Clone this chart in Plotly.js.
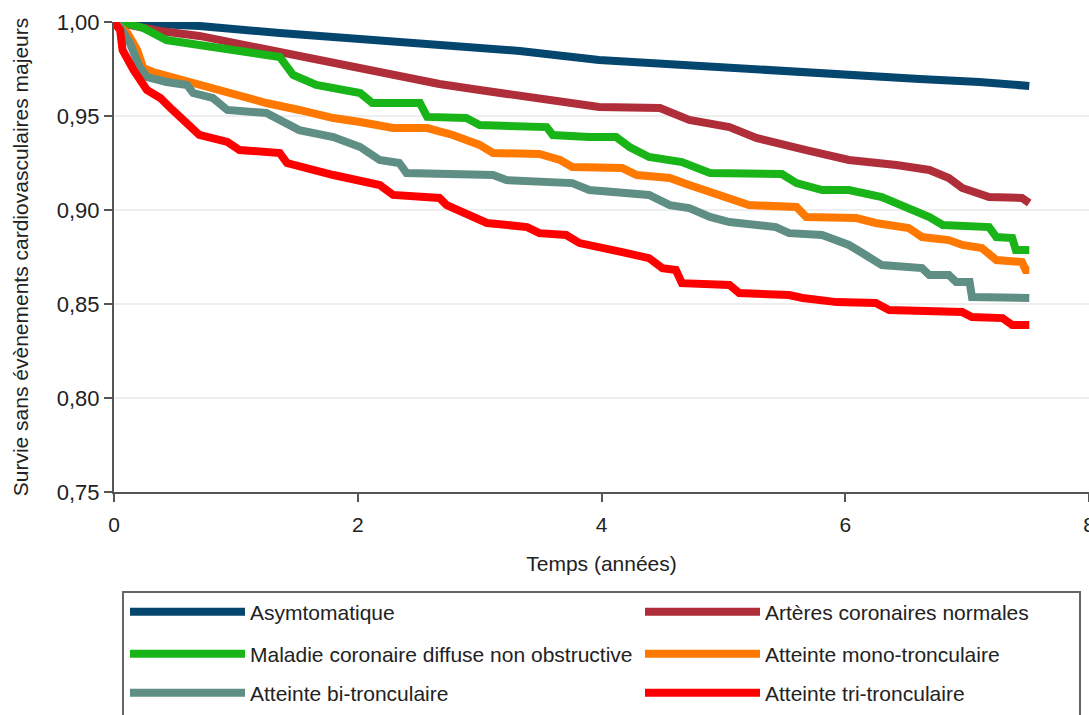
<!DOCTYPE html>
<html>
<head>
<meta charset="utf-8">
<script src="https://cdn.plot.ly/plotly-3.0.1.min.js"></script>
<style>html,body{margin:0;padding:0;background:#fff;}#chart{width:1089px;height:715px;}</style>
</head>
<body>
<div id="chart"></div>
<script>
// Kaplan-Meier survival curves
const seriesNames = [
  "Asymtomatique",
  "Artères coronaires normales",
  "Maladie coronaire diffuse non obstructive",
  "Atteinte mono-tronculaire",
  "Atteinte bi-tronculaire",
  "Atteinte tri-tronculaire"
];

const tAsym = [0, 0.70, 1.36, 2.02, 2.75, 3.33, 3.98, 4.64, 5.30, 6.03, 6.61, 7.10, 7.51];
const sAsym = [1.0, 0.9979, 0.9941, 0.991, 0.9872, 0.9846, 0.9798, 0.9771, 0.9745, 0.9713, 0.9697, 0.9681, 0.966];

const tNorm = [0, 0.38, 0.70, 1.03, 1.52, 1.93, 2.34, 2.67, 3.00, 3.27, 3.66, 3.98, 4.48, 4.72, 5.05, 5.27, 5.68, 6.03, 6.42, 6.69, 6.85, 6.96, 7.18, 7.45, 7.51];
const sNorm = [1.0, 0.9952, 0.9926, 0.9883, 0.9824, 0.9771, 0.9718, 0.967, 0.9638, 0.9612, 0.9585, 0.9548, 0.9542, 0.9479, 0.9441, 0.9383, 0.9319, 0.9266, 0.9239, 0.9213, 0.917, 0.9117, 0.9069, 0.9064, 0.9037];

const tDiff = [0, 0.09, 0.24, 0.43, 0.70, 1.03, 1.36, 1.47, 1.66, 2.02, 2.12, 2.51, 2.57, 2.89, 3.00, 3.55, 3.60, 3.90, 4.12, 4.23, 4.39, 4.66, 4.89, 5.48, 5.60, 5.81, 6.03, 6.30, 6.47, 6.69, 6.80, 7.18, 7.24, 7.37, 7.40, 7.51];
const sDiff = [1.0, 0.9995, 0.9968, 0.9904, 0.9878, 0.9851, 0.9814, 0.9718, 0.9665, 0.9622, 0.9569, 0.9569, 0.9495, 0.9489, 0.9452, 0.9441, 0.9399, 0.9388, 0.9388, 0.9335, 0.9282, 0.9255, 0.9197, 0.9191, 0.9143, 0.9106, 0.9106, 0.9069, 0.9026, 0.8963, 0.892, 0.8909, 0.8856, 0.8851, 0.8787, 0.8787];

const tMono = [0, 0.11, 0.19, 0.24, 0.32, 0.48, 0.70, 0.87, 0.98, 1.25, 1.52, 1.80, 2.02, 2.29, 2.57, 2.78, 3.00, 3.11, 3.49, 3.66, 3.76, 3.98, 4.17, 4.29, 4.56, 4.72, 4.99, 5.21, 5.60, 5.68, 6.09, 6.25, 6.52, 6.63, 6.85, 6.96, 7.12, 7.24, 7.45, 7.48, 7.51];
const sMono = [1.0, 0.9941, 0.9851, 0.9755, 0.9734, 0.9707, 0.9665, 0.9638, 0.9612, 0.9569, 0.9532, 0.9489, 0.9468, 0.9436, 0.9436, 0.9399, 0.9346, 0.9303, 0.9298, 0.9266, 0.9229, 0.9229, 0.9223, 0.9186, 0.917, 0.9133, 0.908, 0.9026, 0.9016, 0.8963, 0.8957, 0.8931, 0.8904, 0.8856, 0.884, 0.8814, 0.8798, 0.8734, 0.8723, 0.8681, 0.8681];

const tBi = [0, 0.05, 0.13, 0.21, 0.27, 0.43, 0.60, 0.65, 0.81, 0.93, 1.25, 1.42, 1.52, 1.80, 2.02, 2.18, 2.34, 2.40, 3.11, 3.22, 3.76, 3.90, 4.39, 4.56, 4.72, 4.89, 5.05, 5.43, 5.54, 5.81, 6.03, 6.14, 6.25, 6.30, 6.63, 6.69, 6.85, 6.91, 7.02, 7.04, 7.51];
const sBi = [1.0, 0.9973, 0.9888, 0.9761, 0.9707, 0.9681, 0.9665, 0.9622, 0.9596, 0.9532, 0.9516, 0.9463, 0.9425, 0.9388, 0.9335, 0.9266, 0.925, 0.9197, 0.9186, 0.9159, 0.9143, 0.9106, 0.908, 0.9026, 0.901, 0.8963, 0.8936, 0.8909, 0.8877, 0.8867, 0.8814, 0.8771, 0.8734, 0.8707, 0.8691, 0.8654, 0.8654, 0.8617, 0.8617, 0.8537, 0.8532];

const tTri = [0, 0.05, 0.07, 0.16, 0.27, 0.38, 0.48, 0.60, 0.70, 0.93, 1.03, 1.36, 1.42, 1.80, 2.02, 2.18, 2.29, 2.67, 2.73, 2.94, 3.06, 3.39, 3.49, 3.71, 3.82, 4.17, 4.39, 4.50, 4.61, 4.66, 5.05, 5.13, 5.54, 5.65, 5.93, 6.25, 6.36, 6.96, 7.04, 7.29, 7.37, 7.51];
const sTri = [1.0, 0.9957, 0.9851, 0.9745, 0.9638, 0.9596, 0.9532, 0.9463, 0.9399, 0.9362, 0.9319, 0.9303, 0.925, 0.9186, 0.9149, 0.9133, 0.908, 0.9064, 0.9026, 0.8963, 0.8931, 0.8909, 0.8877, 0.8867, 0.8824, 0.8776, 0.8744, 0.8691, 0.8681, 0.8611, 0.8601, 0.8558, 0.8548, 0.8532, 0.851, 0.8505, 0.8468, 0.8457, 0.8431, 0.8425, 0.8388, 0.8388];

const xTicks = [0, 2, 4, 6, 8];
const yTicks = [0.75, 0.80, 0.85, 0.90, 0.95, 1.00];

const colors = ["#05466e", "#b02e3a", "#18b418", "#ff7800", "#5e8e84", "#ff0000"];

const times = [tAsym, tNorm, tDiff, tMono, tBi, tTri];
const surv = [sAsym, sNorm, sDiff, sMono, sBi, sTri];

const FONT = "'Liberation Sans', Arial, sans-serif";

// pixel helpers for the legend block placement (plot area: x 114..1089, y 22..492)
function py(p) { return (492 - p) / 470; }
function px(p) { return (p - 114) / 975; }

// legend grid: two columns, three rows
const legendCols = [px(125), px(640)];
const legendRows = [py(612), py(654), py(693)];
const legendIds = ["legend", "legend2", "legend3", "legend4", "legend5", "legend6"];

const traces = seriesNames.map((name, i) => ({
  type: "scatter",
  mode: "lines",
  name: name,
  x: times[i],
  y: surv[i],
  line: {color: colors[i], width: 8, shape: "linear"},
  legend: legendIds[i],
  hoverinfo: "x+y+name"
}));

const legendBase = {
  orientation: "h",
  xanchor: "left",
  yanchor: "middle",
  bgcolor: "rgba(0,0,0,0)",
  borderwidth: 0,
  font: {family: FONT, size: 21, color: "#222"},
  itemwidth: 115,
  traceorder: "normal"
};

const layout = {
  width: 1089,
  height: 715,
  margin: {l: 114, r: 0, t: 22, b: 223, pad: 0},
  paper_bgcolor: "#ffffff",
  plot_bgcolor: "#ffffff",
  separators: ", ",
  font: {family: FONT, size: 21, color: "#222"},
  xaxis: {
    range: [0, 8],
    tickvals: xTicks,
    ticktext: xTicks.map(String),
    ticks: "outside",
    ticklen: 8,
    tickwidth: 2,
    tickcolor: "#555",
    ticklabelstandoff: 5,
    ticklabeloverflow: "allow",
    showline: true,
    linecolor: "#555",
    linewidth: 2,
    showgrid: false,
    zeroline: false,
    automargin: false,
    tickfont: {family: FONT, size: 21, color: "#222"},
    title: {text: "Temps (années)", font: {family: FONT, size: 21, color: "#222"}, standoff: 21}
  },
  yaxis: {
    range: [0.75, 1.0],
    tickvals: yTicks,
    tickformat: ".2f",
    ticks: "outside",
    ticklen: 8,
    tickwidth: 2,
    tickcolor: "#555",
    showline: true,
    linecolor: "#555",
    linewidth: 2,
    showgrid: true,
    gridcolor: "#eeeeee",
    gridwidth: 2,
    zeroline: false,
    automargin: false,
    tickfont: {family: FONT, size: 22, color: "#222"},
    title: {text: "Survie sans évènements cardiovasculaires majeurs", font: {family: FONT, size: 21, color: "#222"}, standoff: 22}
  },
  showlegend: true,
  shapes: [{
    type: "rect", xref: "paper", yref: "paper",
    x0: px(123), x1: px(1080), y0: py(722), y1: py(592),
    line: {color: "#666", width: 2}, fillcolor: "rgba(0,0,0,0)", layer: "below"
  }]
};

legendIds.forEach((id, i) => {
  layout[id] = Object.assign({}, legendBase, {
    x: legendCols[i % 2],
    y: legendRows[Math.floor(i / 2)]
  });
});

Plotly.newPlot("chart", traces, layout, {displayModeBar: false, responsive: false});
</script>
</body>
</html>
